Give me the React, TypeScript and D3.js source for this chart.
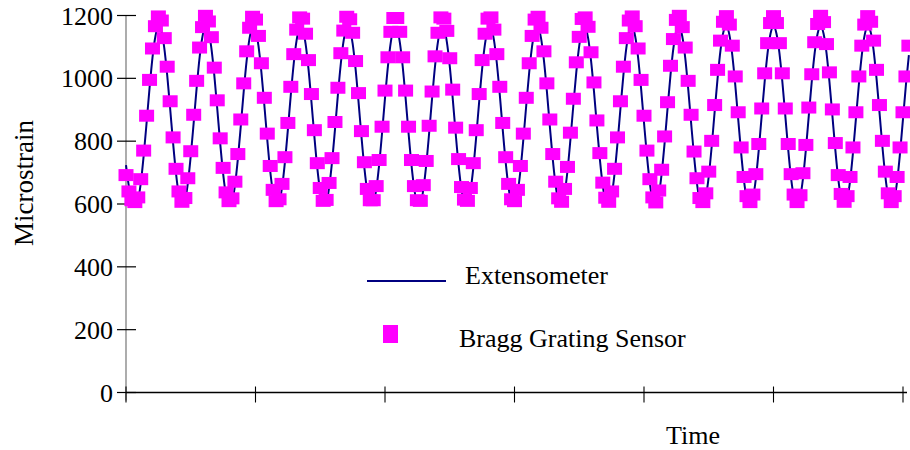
import React from "react";
import * as d3 from "d3";

// Bragg grating sensor readings (microstrain), one per sample
const braggStrain = [
  692, 640, 612, 606,
  621, 679, 770, 881, 995, 1095, 1166, 1197, 1184, 1128, 1037, 927, 812, 712, 640, 607,
  619, 682, 768, 884, 992, 1098, 1163, 1199, 1181, 1131, 1034, 930, 809, 715, 637, 609,
  618, 671, 759, 869, 984, 1086, 1161, 1196, 1187, 1135, 1048, 938, 824, 721, 645, 609,
  615, 664, 749, 858, 973, 1077, 1155, 1194, 1190, 1142, 1058, 950, 835, 730, 651, 610,
  613, 667, 746, 861, 970, 1080, 1152, 1196, 1188, 1145, 1055, 953, 832, 733, 648, 612,
  612, 657, 740, 846, 961, 1067, 1148, 1192, 1192, 1148, 1067, 961, 846, 740, 657, 612,
  610, 660, 737, 849, 958, 1070, 1145, 1194, 1190, 1151, 1064, 964, 843, 743, 654, 614,
  610, 651, 730, 835, 950, 1058, 1142, 1190, 1194, 1155, 1077, 973, 858, 749, 664, 615,
  609, 645, 721, 824, 938, 1048, 1135, 1187, 1196, 1161, 1086, 984, 869, 759, 671, 618,
  607, 648, 718, 827, 935, 1051, 1132, 1189, 1194, 1164, 1083, 987, 866, 762, 668, 620,
  607, 640, 712, 812, 927, 1037, 1128, 1184, 1197, 1166, 1095, 995, 881, 770, 679, 621,
  605, 643, 709, 815, 924, 1040, 1125, 1186, 1199, 1163, 1098, 992, 884, 767, 682, 619,
  606, 634, 703, 801, 915, 1027, 1120, 1180, 1198, 1171, 1104, 1006, 892, 780, 686, 625,
  606, 630, 695, 791, 904, 1016, 1112, 1176, 1198, 1176, 1112, 1016, 904, 791, 695, 630,
  606, 628, 698, 788, 907, 1013, 1115, 1173, 1199, 1179, 1109, 1019, 901, 794, 692, 632, 607,
  625, 686, 780, 892, 1006, 1104, 1171, 1198, 1180, 1120, 1027, 915, 801, 703, 634, 606,
  625, 686, 780, 892, 1006, 1104,
];

// Extensometer readings (microstrain), same samples
const extensometerStrain = [
  724, 655, 608, 595,
  610, 665, 753, 859, 969, 1066, 1134, 1164, 1151, 1097, 1010, 904, 794, 697, 627, 596,
  610, 665, 753, 859, 969, 1066, 1134, 1164, 1151, 1097, 1010, 904, 794, 697, 627, 596,
  607, 658, 743, 848, 959, 1057, 1129, 1163, 1154, 1104, 1020, 915, 805, 705, 633, 597,
  604, 651, 733, 837, 948, 1048, 1123, 1162, 1157, 1111, 1030, 926, 815, 714, 639, 599,
  604, 651, 733, 837, 948, 1048, 1123, 1162, 1157, 1111, 1030, 926, 815, 714, 639, 599,
  601, 645, 724, 826, 937, 1039, 1117, 1160, 1160, 1117, 1039, 937, 826, 724, 645, 601,
  601, 645, 724, 826, 937, 1039, 1117, 1160, 1160, 1117, 1039, 937, 826, 724, 645, 601,
  599, 639, 714, 815, 926, 1030, 1111, 1157, 1162, 1123, 1048, 948, 837, 733, 651, 604,
  597, 633, 705, 805, 915, 1020, 1104, 1154, 1163, 1129, 1057, 959, 848, 743, 658, 607,
  597, 633, 705, 805, 915, 1020, 1104, 1154, 1163, 1129, 1057, 959, 848, 743, 658, 607,
  596, 627, 697, 794, 904, 1010, 1097, 1151, 1164, 1134, 1066, 969, 859, 753, 665, 610,
  596, 627, 697, 794, 904, 1010, 1097, 1151, 1164, 1134, 1066, 969, 859, 753, 665, 610,
  595, 622, 688, 783, 893, 1000, 1090, 1148, 1165, 1139, 1074, 980, 871, 763, 672, 614,
  595, 618, 680, 773, 882, 990, 1082, 1143, 1165, 1143, 1082, 990, 882, 773, 680, 618,
  595, 618, 680, 773, 882, 990, 1082, 1143, 1165, 1143, 1082, 990, 882, 773, 680, 618, 595,
  614, 672, 763, 871, 980, 1074, 1139, 1165, 1148, 1090, 1000, 893, 783, 688, 622, 595,
  614, 672, 763, 871, 980, 1074,
];

const yTicks = [0, 200, 400, 600, 800, 1000, 1200];
const xTicks = [0, 44, 88, 132, 176, 220, 264];

const FONT = "'Liberation Serif', 'Times New Roman', serif";

const App = () => {
  const width = 910;
  const height = 450;

  const x = d3.scaleLinear().domain([0, 264]).range([126, 903]);
  const y = d3.scaleLinear().domain([0, 1200]).range([392.5, 15.5]);

  const line = d3
    .line<number>()
    .x((_, i) => x(i))
    .y((d) => y(d))
    .curve(d3.curveMonotoneX);

  return (
    <svg
      width={width}
      height={height}
      style={{ position: "absolute", left: 0, top: 0, background: "#fff" }}
    >
      {/* y axis */}
      <line x1={x(0)} x2={x(0)} y1={y(1200)} y2={y(0) + 8} stroke="#808080" strokeWidth={1.3} />
      {yTicks.map((t) => (
        <g key={t}>
          <line x1={x(0) - 9} x2={x(0) + 10} y1={y(t)} y2={y(t)} stroke="#000" strokeWidth={1.2} />
          <text
            x={113}
            y={y(t) + 9}
            textAnchor="end"
            fontFamily={FONT}
            fontSize={26}
            fill="#000"
          >
            {t}
          </text>
        </g>
      ))}

      {/* x axis */}
      <line x1={x(0)} x2={907} y1={y(0)} y2={y(0)} stroke="#000" strokeWidth={1.3} />
      {xTicks.map((t) => (
        <line key={t} x1={x(t)} x2={x(t)} y1={y(0) - 6} y2={y(0) + 10} stroke="#000" strokeWidth={1.1} />
      ))}

      {/* extensometer line */}
      <path d={line(extensometerStrain) || ""} fill="none" stroke="#000080" strokeWidth={2} />

      {/* bragg grating markers */}
      {braggStrain.map((v, i) => (
        <rect key={i} x={x(i) - 7.5} y={y(v) - 6} width={15} height={12} fill="#ff00ff" />
      ))}

      {/* legend */}
      <line x1={367} x2={446} y1={281} y2={281} stroke="#000080" strokeWidth={2} />
      <text x={465} y={284} fontFamily={FONT} fontSize={26} fill="#000">
        Extensometer
      </text>
      <rect x={383} y={325} width={15} height={18} fill="#ff00ff" />
      <text x={459} y={347} fontFamily={FONT} fontSize={26} fill="#000">
        Bragg Grating Sensor
      </text>

      {/* axis titles */}
      <text
        transform="translate(33,183) rotate(-90)"
        textAnchor="middle"
        fontFamily={FONT}
        fontSize={27}
        fill="#000"
      >
        Microstrain
      </text>
      <text x={693} y={444} textAnchor="middle" fontFamily={FONT} fontSize={26} fill="#000">
        Time
      </text>
    </svg>
  );
};

export default App;
